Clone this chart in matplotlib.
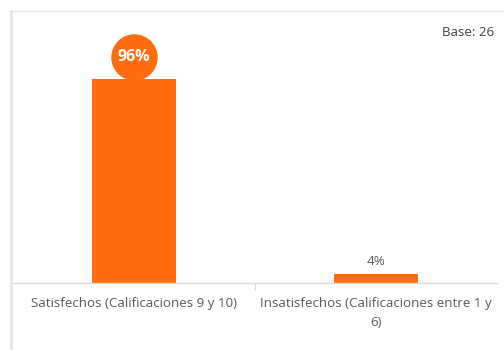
import matplotlib

matplotlib.use("Agg")
import matplotlib.pyplot as plt
from matplotlib.lines import Line2D
from matplotlib.transforms import offset_copy

categories = ["Satisfechos (Calificaciones 9 y 10)",
              "Insatisfechos (Calificaciones entre 1 y\n6)"]
values = [0.96, 0.04]
base_n = 26

ORANGE = "#FF6D0F"
GRID = "#D9D9D9"
TEXT = "#595959"

plt.rcParams["font.family"] = ["Open Sans", "DejaVu Sans"]

fig = plt.figure(figsize=(5.04, 3.5), dpi=100)
ax = fig.add_axes([13 / 504, 67 / 350, 484 / 504, 213 / 350])

x = list(range(len(categories)))
ax.bar(x, values, width=0.35, color=ORANGE, zorder=2)
ax.set_xlim(-0.5, len(categories) - 0.5)
ax.set_ylim(0, 1.0)

for side in ("top", "right", "left"):
    ax.spines[side].set_visible(False)
ax.spines["bottom"].set_color(GRID)
ax.spines["bottom"].set_linewidth(1.0)
ax.set_yticks([])

# category labels sit between boundary ticks
ax.set_xticks(x)
ax.set_xticklabels(categories, fontsize=9.6, color=TEXT, linespacing=1.6,
                   va="top")
ax.tick_params(axis="x", length=0, pad=10)
ax.set_xticks([0.5], minor=True)
ax.tick_params(axis="x", which="minor", length=5, color=GRID, width=1.0)

# highlighted value in a circle above the first bar
circle_tr = offset_copy(ax.transData, fig=fig, y=22, units="dots")
ax.scatter([x[0]], [values[0]], s=1120, color=ORANGE, transform=circle_tr,
           clip_on=False, zorder=3, linewidths=0)
ax.text(x[0], values[0], f"{values[0]:.0%}", transform=circle_tr,
        ha="center", va="center", color="white", fontsize=11.5,
        fontweight="bold", zorder=4)

ax.annotate(f"{values[1]:.0%}", (x[1], values[1]), xytext=(0, 5),
            textcoords="offset points", ha="center", va="bottom",
            fontsize=9.7, color=TEXT)

fig.text(494 / 504, 1 - 32 / 350, f"Base: {base_n}", ha="right",
         va="center", fontsize=9.5, color="#404040")

# light frame around the chart area
fig.add_artist(Line2D([11 / 504, 11 / 504], [0, 1 - 11 / 350],
                      transform=fig.transFigure, color="#E6E6E6", lw=2))
fig.add_artist(Line2D([11 / 504, 1], [1 - 11 / 350, 1 - 11 / 350],
                      transform=fig.transFigure, color="#E6E6E6", lw=1))

fig.savefig("out.png", dpi=100)
